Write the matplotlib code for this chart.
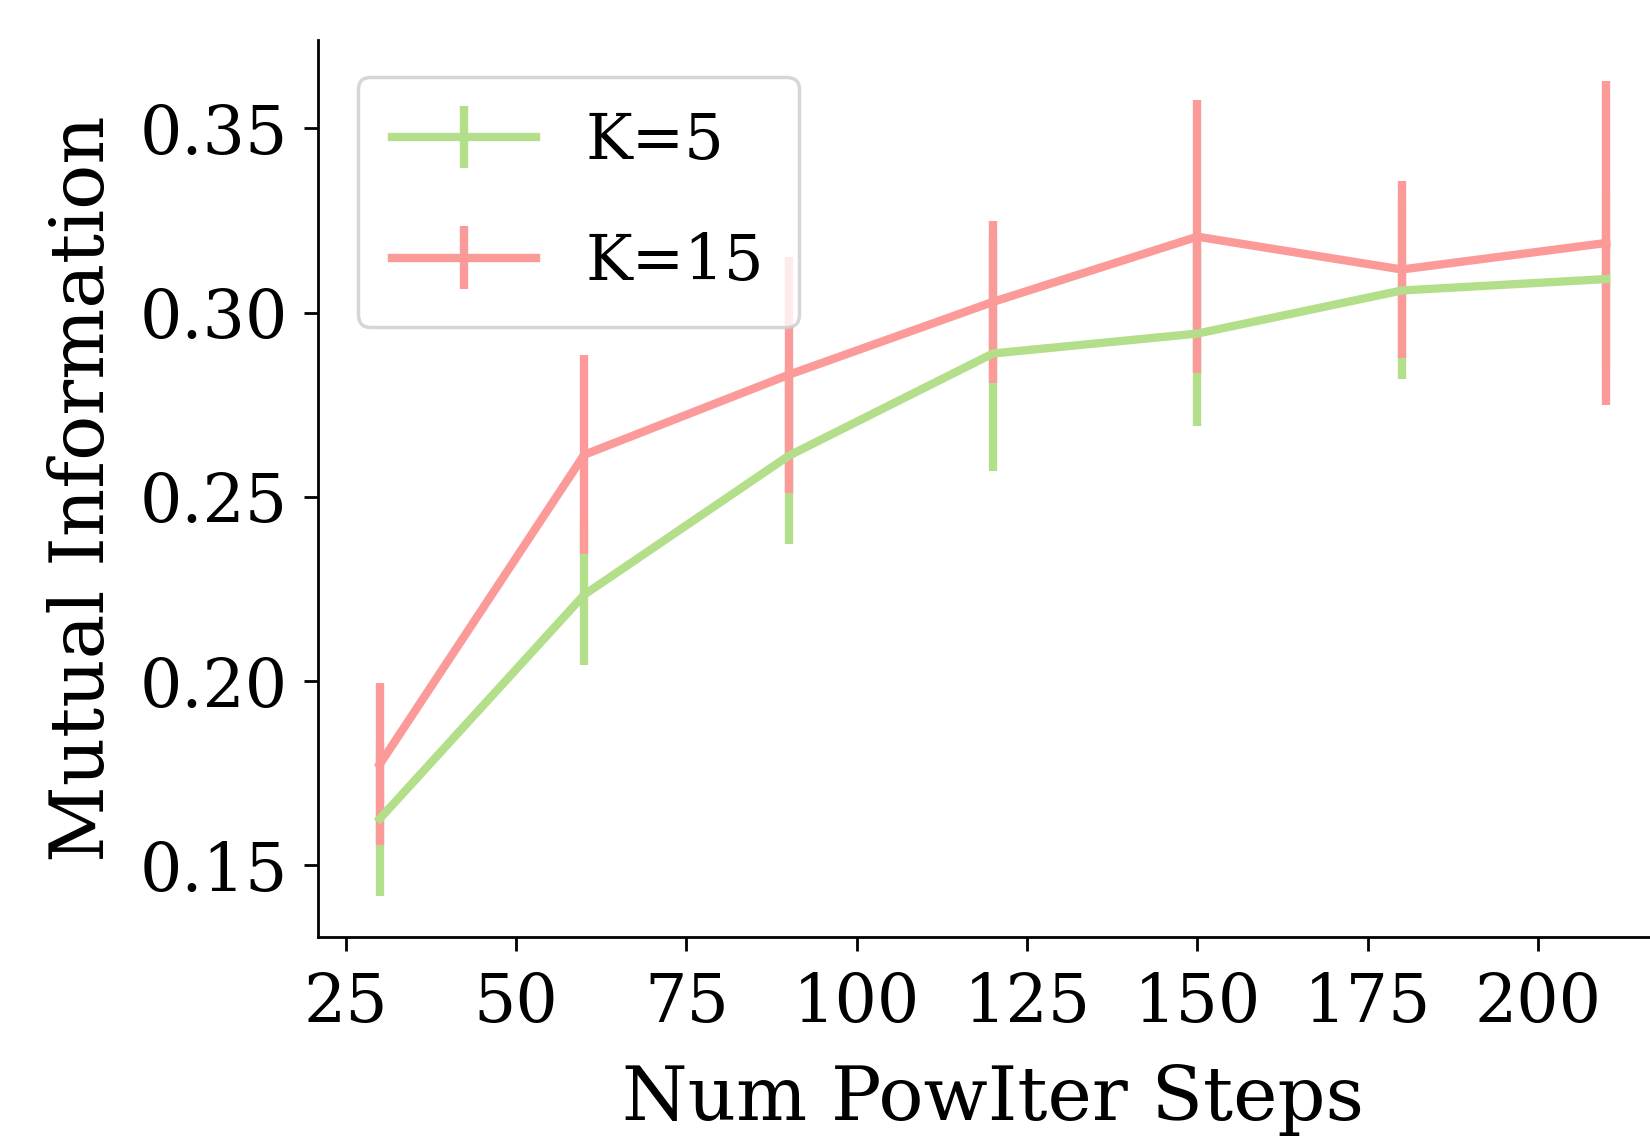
import matplotlib.pyplot as plt

steps = [30, 60, 90, 120, 150, 180, 210]

mi_k5 = [0.1626, 0.2234, 0.2611, 0.2889, 0.2943, 0.3060, 0.3091]
err_k5 = [0.021, 0.019, 0.024, 0.032, 0.025, 0.024, 0.024]

mi_k15 = [0.1774, 0.2614, 0.2831, 0.3029, 0.3206, 0.3117, 0.3189]
err_k15 = [0.022, 0.027, 0.032, 0.022, 0.037, 0.024, 0.044]

plt.rcParams['font.family'] = ['DejaVu Serif']

fig = plt.figure(figsize=(16.5, 11.42), dpi=100)
ax = fig.add_axes([0.193, 0.1795, 0.8176, 0.7855])

ax.errorbar(steps, mi_k5, yerr=err_k5, color='#b3df8a', linewidth=6, elinewidth=6, label='K=5')
ax.errorbar(steps, mi_k15, yerr=err_k15, color='#fb9a99', linewidth=6, elinewidth=6, label='K=15')

ax.set_xlim(21, 219)
ax.set_ylim(0.1305, 0.374)
ax.set_xticks([25, 50, 75, 100, 125, 150, 175, 200])
ax.set_yticks([0.15, 0.20, 0.25, 0.30, 0.35])
ax.set_yticklabels(['0.15', '0.20', '0.25', '0.30', '0.35'])

ax.spines['top'].set_visible(False)
ax.spines['right'].set_visible(False)
ax.spines['left'].set_linewidth(2)
ax.spines['bottom'].set_linewidth(2)
ax.tick_params(labelsize=48, width=2, length=10)
ax.tick_params(axis='x', pad=14)
ax.tick_params(axis='y', pad=12)

ax.set_xlabel('Num PowIter Steps', fontsize=54, labelpad=20)
ax.set_ylabel('Mutual Information', fontsize=54, labelpad=14)

leg = ax.legend(loc='upper left', fontsize=45, handlelength=2.3, borderpad=0.55, labelspacing=0.95,
                handletextpad=0.8, framealpha=0.8, bbox_to_anchor=(0.006, 0.994))
leg.get_frame().set_edgecolor('#cccccc')
leg.get_frame().set_linewidth(2.5)

plt.savefig('out.png', dpi=100)
plt.close()
